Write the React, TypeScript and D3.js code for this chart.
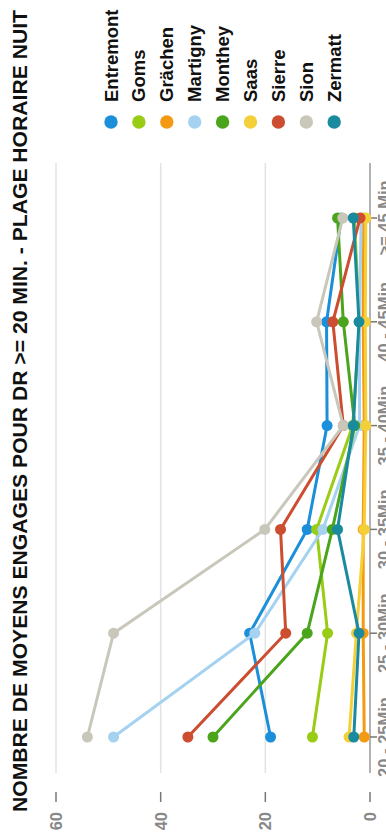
import React from "react";
import * as d3 from "d3";

const categories = ["20 - 25Min", "25 - 30Min", "30 - 35Min", "35 - 40Min", "40 - 45Min", ">= 45 Min"];
const seriesNames = ["Entremont", "Goms", "Grächen", "Martigny", "Monthey", "Saas", "Sierre", "Sion", "Zermatt"];
const seriesColors = ["#1b8fd9", "#99cc14", "#f49a12", "#a5d2f0", "#4aa51c", "#f5cf38", "#cc4d2f", "#c9c6ba", "#1a8a9f"];
const entremont = [19, 23, 12, 8.2, 8.3, 5.5];
const goms = [11, 8.1, 10.2, 3.3, 2, 3];
const grachen = [1.1, 1.3, 1.3, 1.1, 1.3, 1.2];
const martigny = [49, 22, 9, 2, 2, 1.7];
const monthey = [30, 12, 7.2, 2.9, 5.1, 6.2];
const saas = [4, 2.6, 1.1, 0.8, 0.9, 0.8];
const sierre = [34.8, 16.1, 17.1, 5.1, 7.1, 1.9];
const sion = [54, 49, 20.1, 5.1, 10.2, 5.2];
const zermatt = [3.1, 2.1, 6.2, 3.2, 2.1, 3.2];
const seriesValues = [entremont, goms, grachen, martigny, monthey, saas, sierre, sion, zermatt];
const yTicks = [0, 20, 40, 60];
const title = "NOMBRE DE MOYENS ENGAGES POUR DR >= 20 MIN. - PLAGE HORAIRE NUIT";

const W = 835;
const FONT = "'Liberation Sans', Arial, Helvetica, sans-serif";

export default function App() {
  const x = d3.scalePoint<string>().domain(categories).range([98, 617]);
  const y = d3.scaleLinear().domain([0, 60]).range([370, 56]);
  const plotLeft = 62;
  const plotRight = 672;
  const line = d3
    .line<number>()
    .x((_, i) => x(categories[i]) as number)
    .y((d) => y(d));

  return (
    <svg
      width={386}
      height={835}
      style={{ position: "absolute", left: 0, top: 0, background: "#fff" }}
    >
      <rect x={0} y={0} width={386} height={835} fill="#fff" />
      <g transform={`translate(0,${W}) rotate(-90)`} fontFamily={FONT}>
        <text
          x={23}
          y={27}
          fontSize={20.5}
          fontWeight="bold"
          fill="#111"
          textLength={802}
          lengthAdjust="spacingAndGlyphs"
        >
          {title}
        </text>
        {yTicks.map((t) => (
          <g key={t}>
            {t !== 0 && (
              <line x1={plotLeft} x2={plotRight} y1={y(t)} y2={y(t)} stroke="#e3e3e3" strokeWidth={1.5} />
            )}
            <line x1={33} x2={43} y1={y(t)} y2={y(t)} stroke="#777" strokeWidth={1.5} />
            <text x={23} y={y(t) + 6} textAnchor="end" fontSize={16.5} fontWeight="bold" fill="#888">
              {t}
            </text>
          </g>
        ))}
        <line x1={plotLeft} x2={plotRight} y1={y(0)} y2={y(0)} stroke="#999" strokeWidth={1.5} />
        {categories.map((c) => (
          <g key={c}>
            <line x1={x(c)} x2={x(c)} y1={y(0)} y2={y(0) + 7} stroke="#777" strokeWidth={1.5} />
            <text x={x(c)} y={390} textAnchor="middle" fontSize={16.5} fontWeight="bold" fill="#888">
              {c}
            </text>
          </g>
        ))}
        {seriesValues.map((vals, si) => (
          <g key={seriesNames[si]}>
            <path d={line(vals) || ""} fill="none" stroke={seriesColors[si]} strokeWidth={3} />
            {vals.map((v, i) => (
              <circle key={i} cx={x(categories[i])} cy={y(v)} r={5.5} fill={seriesColors[si]} />
            ))}
          </g>
        ))}
        {seriesNames.map((n, i) => {
          const cy = 111 + i * 27.9;
          return (
            <g key={n}>
              <circle cx={713} cy={cy} r={6.7} fill={seriesColors[i]} />
              <text x={733} y={cy + 6.5} fontSize={18.5} fontWeight="bold" fill="#111">
                {n}
              </text>
            </g>
          );
        })}
      </g>
    </svg>
  );
}
